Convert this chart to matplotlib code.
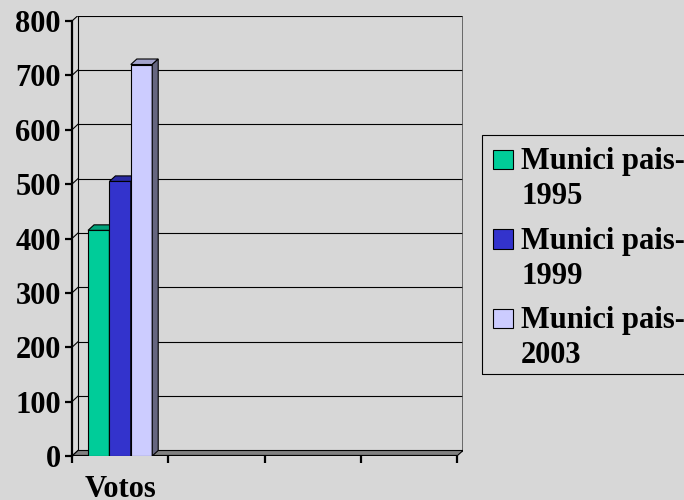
import numpy as np
import matplotlib.pyplot as plt
from matplotlib.patches import Polygon, Rectangle

categories = ["Votos", "", "", ""]
series = ["Munici pais-\n1995", "Munici pais-\n1999", "Munici pais-\n2003"]
values = [
    [415, np.nan, np.nan, np.nan],
    [505, np.nan, np.nan, np.nan],
    [720, np.nan, np.nan, np.nan],
]
colors = ["#00CC99", "#3333CC", "#CCCCFF"]
yticks = np.arange(0, 801, 100)

plt.rcParams["font.family"] = ["Liberation Serif", "DejaVu Serif"]
plt.rcParams["font.weight"] = "bold"

W, H = 684, 500
BG = "#D7D7D7"
FS = 22


def shade(c, k):
    rgb = np.array(plt.matplotlib.colors.to_rgb(c))
    return tuple(rgb * k)


fig = plt.figure(figsize=(W / 100, H / 100), dpi=100, facecolor=BG)

# axes box in pixels (front axis at left, back wall at right / top)
left, right, top, bottom = 72, 463, 15.5, 456
ax = fig.add_axes([left / W, 1 - bottom / H, (right - left) / W, (bottom - top) / H])
ax.set_facecolor("none")

n = len(categories)
xpx = (457 - left) / n          # pixels per category
ypx = (bottom - 21) / 800       # pixels per value unit
ax.set_xlim(0, (right - left) / xpx)
ax.set_ylim(0, (bottom - top) / ypx)
DX = 6 / xpx
DY = 5.5 / ypx
ymax = yticks[-1]

# back wall and left wall gridlines
for v in yticks:
    ax.plot([DX, n + DX], [v + DY, v + DY], color="black", lw=0.8, zorder=1)
    ax.plot([0, DX], [v, v + DY], color="black", lw=0.8, zorder=1)
ax.plot([DX, DX], [DY, ymax + DY], color="black", lw=0.8, zorder=1)
ax.plot([n + DX, n + DX], [DY, ymax + DY], color="#555555", lw=1.2, zorder=1)

# floor
ax.add_patch(Polygon([(0, 0), (n, 0), (n + DX, DY), (DX, DY)],
                     closed=True, fc="#808080", ec="black", lw=0.8, zorder=2))
ax.plot([0, n], [0, 0], color="black", lw=1.6, zorder=3, solid_capstyle="butt")

# 3d bars
gap = 1.5
w = 1 / (len(series) + gap)
z = 4
for i in range(n):
    for j, (vals, c) in enumerate(zip(values, colors)):
        v = vals[i]
        if np.isnan(v):
            continue
        x0 = i + gap / 2 * w + j * w
        ax.add_patch(Rectangle((x0, 0), w, v, fc=c, ec="black", lw=0.8, zorder=z))
        ax.add_patch(Polygon([(x0, v), (x0 + w, v), (x0 + w + DX, v + DY), (x0 + DX, v + DY)],
                             closed=True, fc=shade(c, 0.8), ec="black", lw=0.8, zorder=z))
        ax.add_patch(Polygon([(x0 + w, 0), (x0 + w + DX, DY), (x0 + w + DX, v + DY), (x0 + w, v)],
                             closed=True, fc=shade(c, 0.5), ec="black", lw=0.8, zorder=z))
        z += 1

for s in ["top", "right", "bottom"]:
    ax.spines[s].set_visible(False)
ax.spines["left"].set_bounds(0, ymax)
ax.spines["left"].set_linewidth(1.6)

ax.set_yticks(yticks)
ax.set_yticklabels([str(v) for v in yticks])
ax.tick_params(axis="y", length=5, width=1.6, pad=3, labelsize=FS)

ax.set_xticks(range(n + 1))
ax.set_xticklabels([])
ax.set_xticks(np.arange(n) + 0.5, minor=True)
ax.set_xticklabels(categories, minor=True)
ax.tick_params(axis="x", which="major", length=5, width=1.6)
ax.tick_params(axis="x", which="minor", length=0, pad=14, labelsize=FS)

# legend
fig.add_artist(Rectangle((482 / W, 1 - 374 / H), (700 - 482) / W, (374 - 135) / H,
                         transform=fig.transFigure, fill=False, ec="black", lw=0.8))
for k, (name, c) in enumerate(zip(series, colors)):
    base = 169 + 79.5 * k
    fig.add_artist(Rectangle((493 / W, 1 - base / H), 20 / W, 19.5 / H,
                             transform=fig.transFigure, fc=c, ec="black", lw=0.8))
    for m, line in enumerate(name.split("\n")):
        fig.text(521 / W, 1 - (base + 35 * m) / H, line, fontsize=FS,
                 fontweight="bold", va="baseline", ha="left")

fig.savefig("out.png", dpi=100, facecolor=BG)
